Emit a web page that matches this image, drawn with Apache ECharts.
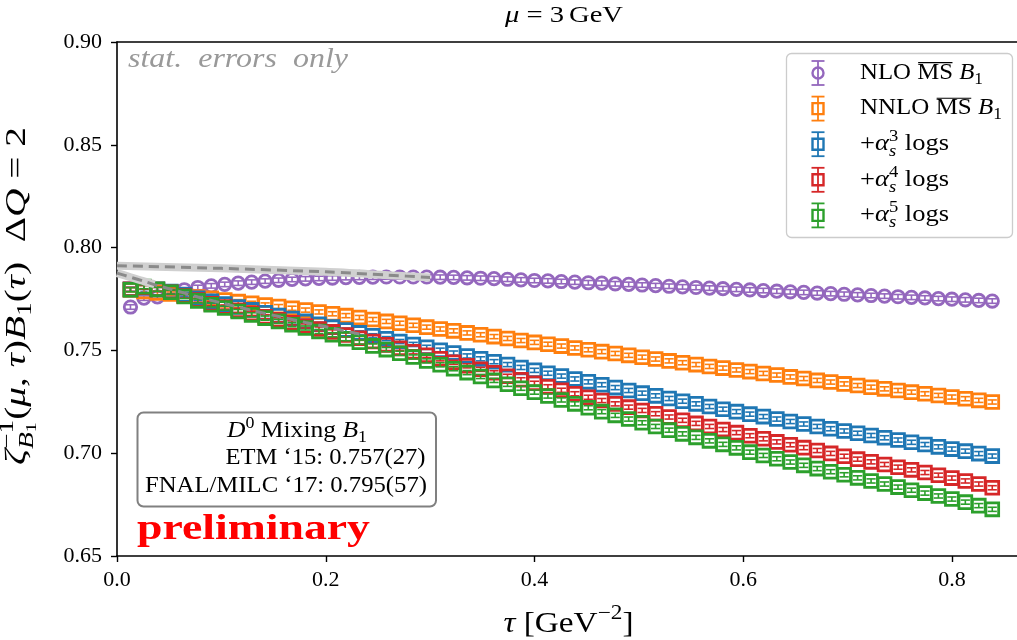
<!DOCTYPE html>
<html>
<head>
<meta charset="utf-8">
<script src="https://cdn.jsdelivr.net/npm/echarts@6/dist/echarts.min.js"></script>
<style>
  html, body { margin: 0; padding: 0; background: #fff; }
  #chart { width: 1017px; height: 640px; }
</style>
</head>
<body>
<div id="chart"></div>
<script>
// flow time tau in GeV^-2
const tau = [0.0129, 0.0258, 0.0387, 0.0516, 0.0645, 0.0774, 0.0903, 0.1032, 0.1161, 0.1290,
  0.1419, 0.1548, 0.1677, 0.1806, 0.1935, 0.2064, 0.2193, 0.2322, 0.2451, 0.2580,
  0.2709, 0.2838, 0.2967, 0.3096, 0.3225, 0.3354, 0.3483, 0.3612, 0.3741, 0.3870,
  0.3999, 0.4128, 0.4257, 0.4386, 0.4515, 0.4644, 0.4773, 0.4902, 0.5031, 0.5160,
  0.5289, 0.5418, 0.5547, 0.5676, 0.5805, 0.5934, 0.6063, 0.6192, 0.6321, 0.6450,
  0.6579, 0.6708, 0.6837, 0.6966, 0.7095, 0.7224, 0.7353, 0.7482, 0.7611, 0.7740,
  0.7869, 0.7998, 0.8127, 0.8256, 0.8385];

// NLO MS-bar B1
const nloMS = [0.7711, 0.7754, 0.7760, 0.7778, 0.7795, 0.7806, 0.7814, 0.7821, 0.7827, 0.7832,
  0.7837, 0.7841, 0.7845, 0.7848, 0.7850, 0.7852, 0.7854, 0.7855, 0.7856, 0.7857,
  0.7857, 0.7857, 0.7857, 0.7856, 0.7855, 0.7853, 0.7851, 0.7849, 0.7846, 0.7843,
  0.7840, 0.7838, 0.7835, 0.7832, 0.7829, 0.7827, 0.7824, 0.7821, 0.7818, 0.7815,
  0.7812, 0.7809, 0.7806, 0.7803, 0.7800, 0.7797, 0.7794, 0.7791, 0.7788, 0.7785,
  0.7782, 0.7779, 0.7776, 0.7773, 0.7770, 0.7767, 0.7764, 0.7761, 0.7758, 0.7755,
  0.7752, 0.7749, 0.7746, 0.7743, 0.7740];

// NNLO MS-bar B1
const nnloMS = [0.7795, 0.7787, 0.7780, 0.7774, 0.7767, 0.7760, 0.7753, 0.7745, 0.7737, 0.7729,
  0.7721, 0.7713, 0.7705, 0.7696, 0.7687, 0.7678, 0.7669, 0.7660, 0.7650, 0.7641,
  0.7632, 0.7622, 0.7613, 0.7604, 0.7595, 0.7585, 0.7576, 0.7567, 0.7558, 0.7548,
  0.7539, 0.7530, 0.7521, 0.7512, 0.7503, 0.7494, 0.7485, 0.7476, 0.7467, 0.7458,
  0.7449, 0.7440, 0.7431, 0.7422, 0.7414, 0.7405, 0.7397, 0.7388, 0.7380, 0.7371,
  0.7363, 0.7354, 0.7346, 0.7337, 0.7329, 0.7321, 0.7313, 0.7305, 0.7297, 0.7289,
  0.7281, 0.7273, 0.7265, 0.7257, 0.7249];

// + alpha_s^3 logs
const alpha3Logs = [0.7797, 0.7806, 0.7797, 0.7786, 0.7770, 0.7754, 0.7739, 0.7725, 0.7711, 0.7697,
  0.7683, 0.7669, 0.7655, 0.7641, 0.7627, 0.7613, 0.7599, 0.7585, 0.7571, 0.7557,
  0.7543, 0.7529, 0.7515, 0.7501, 0.7487, 0.7473, 0.7459, 0.7445, 0.7431, 0.7417,
  0.7403, 0.7389, 0.7375, 0.7361, 0.7347, 0.7333, 0.7319, 0.7305, 0.7292, 0.7279,
  0.7266, 0.7253, 0.7240, 0.7227, 0.7214, 0.7202, 0.7190, 0.7178, 0.7166, 0.7154,
  0.7142, 0.7130, 0.7119, 0.7108, 0.7097, 0.7086, 0.7075, 0.7064, 0.7053, 0.7042,
  0.7031, 0.7020, 0.7010, 0.6998, 0.6986];

// + alpha_s^4 logs
const alpha4Logs = [0.7797, 0.7808, 0.7796, 0.7783, 0.7764, 0.7745, 0.7727, 0.7711, 0.7695, 0.7680,
  0.7664, 0.7649, 0.7634, 0.7619, 0.7604, 0.7590, 0.7575, 0.7559, 0.7543, 0.7527,
  0.7510, 0.7493, 0.7476, 0.7459, 0.7442, 0.7425, 0.7408, 0.7391, 0.7374, 0.7357,
  0.7340, 0.7323, 0.7306, 0.7289, 0.7272, 0.7256, 0.7240, 0.7224, 0.7208, 0.7192,
  0.7176, 0.7160, 0.7145, 0.7130, 0.7115, 0.7100, 0.7085, 0.7070, 0.7055, 0.7041,
  0.7027, 0.7013, 0.6999, 0.6985, 0.6971, 0.6958, 0.6945, 0.6932, 0.6919, 0.6906,
  0.6893, 0.6879, 0.6865, 0.6850, 0.6832];

// + alpha_s^5 logs
const alpha5Logs = [0.7795, 0.7810, 0.7797, 0.7783, 0.7762, 0.7741, 0.7722, 0.7706, 0.7689, 0.7673,
  0.7657, 0.7641, 0.7625, 0.7609, 0.7592, 0.7576, 0.7557, 0.7540, 0.7522, 0.7504,
  0.7486, 0.7468, 0.7449, 0.7430, 0.7411, 0.7392, 0.7373, 0.7354, 0.7335, 0.7316,
  0.7297, 0.7278, 0.7259, 0.7240, 0.7221, 0.7202, 0.7184, 0.7166, 0.7148, 0.7130,
  0.7112, 0.7094, 0.7077, 0.7060, 0.7043, 0.7026, 0.7005, 0.6989, 0.6973, 0.6957,
  0.6941, 0.6925, 0.6910, 0.6895, 0.6880, 0.6865, 0.6850, 0.6835, 0.6820, 0.6806,
  0.6792, 0.6777, 0.6762, 0.6745, 0.6727];

// statistical error of each series (half-width of the error bar)
const statErrNLO = 0.0011;
const statErrNNLO = 0.0010;
const statErrA3 = 0.0010;
const statErrA4 = 0.0010;
const statErrA5 = 0.0010;

// tau -> 0 extrapolations
const nloFit = [[0, 0.7912], [0.1, 0.7899], [0.2, 0.7882], [0.26, 0.7866], [0.3, 0.7855]];
const logsFitBand = [[0, 0.7876], [0.013, 0.7856], [0.026, 0.7836], [0.036, 0.7822]];
const logsFit = [[0, 0.7876], [0.013, 0.7856], [0.026, 0.7836], [0.039, 0.7815], [0.052, 0.7797],
  [0.0774, 0.7760], [0.1032, 0.7727], [0.129, 0.7695], [0.1548, 0.7665], [0.1806, 0.7636],
  [0.2064, 0.7608], [0.2322, 0.7580]];

const xTicks = [0, 0.2, 0.4, 0.6, 0.8];
const yTicks = [0.65, 0.70, 0.75, 0.80, 0.85, 0.90];

const C = { purple: '#9467bd', orange: '#ff7f0e', blue: '#1f77b4', red: '#d62728', green: '#2ca02c' };
const SERIF = '"Liberation Serif", "DejaVu Serif", serif';

// ---------- small math-text layout helper (graphic elements) ----------
const mctx = document.createElement('canvas').getContext('2d');
function fontStr(size, it, b) {
  return (it ? 'italic ' : '') + (b ? 'bold ' : '') + size.toFixed(2) + 'px ' + SERIF;
}
function layoutRuns(runs, size, color, x0, out) {
  let x = x0;
  for (const r of runs) {
    if (r.sp != null) { x += r.sp * size; continue; }
    if (r.st) {
      const wSup = layoutRuns(r.st[0].map(q => Object.assign({ s: 0.7, dy: 0.42 }, q)), size, color, x, out) - x;
      const wSub = layoutRuns(r.st[1].map(q => Object.assign({ s: 0.7, dy: -0.25 }, q)), size, color, x, out) - x;
      x += Math.max(wSup, wSub);
      continue;
    }
    const fs = size * (r.s || 1);
    mctx.font = fontStr(fs, r.it, r.b);
    const w = mctx.measureText(r.t).width;
    const base = -(r.dy || 0) * size;
    out.push({
      type: 'text', x: x, y: base - 0.34 * fs, silent: true, z: 100,
      style: { text: r.t, font: fontStr(fs, r.it, r.b), fill: color, align: 'left', verticalAlign: 'middle' }
    });
    if (r.ov) {
      out.push({
        type: 'line', silent: true, z: 100,
        shape: { x1: x + 0.04 * fs, y1: base - 0.8 * fs, x2: x + w - 0.02 * fs, y2: base - 0.8 * fs },
        style: { stroke: color, lineWidth: Math.max(1, fs * 0.05) }
      });
    }
    x += w;
  }
  return x;
}
function mathText(runs, o) {
  const kids = [];
  const w = layoutRuns(runs, o.size, o.color || '#000', 0, kids);
  let shift = 0;
  if (o.align === 'center') shift = -w / 2;
  else if (o.align === 'right') shift = -w;
  kids.forEach(k => {
    if (k.type === 'text') k.x += shift;
    else { k.shape.x1 += shift; k.shape.x2 += shift; }
  });
  return {
    type: 'group', x: o.x, y: o.y, rotation: o.rot || 0,
    scaleX: o.width ? o.width / w : 1, children: kids, silent: true, z: 100
  };
}

// ---------- error-bar series ----------
function errSeries(name, values, err, color, shape) {
  return {
    type: 'custom', name: name, clip: true,
    encode: { x: 0, y: 1 },
    data: tau.map((t, i) => [t, values[i], err]),
    renderItem: function (params, api) {
      const x = api.value(0), y = api.value(1), e = api.value(2);
      const c = api.coord([x, y]);
      const top = api.coord([x, y + e])[1];
      const bot = api.coord([x, y - e])[1];
      const cap = 4.6, h = 6.4;
      const st = { stroke: color, lineWidth: 1.6, fill: 'none' };
      const mk = { stroke: color, lineWidth: 2.8, fill: 'none' };
      return {
        type: 'group',
        children: [
          { type: 'line', shape: { x1: c[0], y1: top, x2: c[0], y2: bot }, style: st },
          { type: 'line', shape: { x1: c[0] - cap, y1: top, x2: c[0] + cap, y2: top }, style: st },
          { type: 'line', shape: { x1: c[0] - cap, y1: bot, x2: c[0] + cap, y2: bot }, style: st },
          shape === 'circle'
            ? { type: 'circle', shape: { cx: c[0], cy: c[1], r: h - 0.2 }, style: mk }
            : { type: 'rect', shape: { x: c[0] - h, y: c[1] - h, width: 2 * h, height: 2 * h }, style: mk }
        ]
      };
    }
  };
}

function fitSeries(data, dashed) {
  return {
    type: 'line', data: data, showSymbol: false, silent: true, smooth: 0.3,
    lineStyle: dashed
      ? { color: '#8a8a8a', width: 3, type: [10, 6] }
      : { color: '#d0d0d0', width: 8, cap: 'butt' }
  };
}

// ---------- legend ----------
function legendIcon(cx, cy, color, shape) {
  const st = { stroke: color, lineWidth: 1.8, fill: 'none' };
  const mk = { stroke: color, lineWidth: 2.4, fill: 'none' };
  return [
    { type: 'line', shape: { x1: cx, y1: cy - 12, x2: cx, y2: cy + 12 }, style: st, z: 101 },
    { type: 'line', shape: { x1: cx - 6.5, y1: cy - 12, x2: cx + 6.5, y2: cy - 12 }, style: st, z: 101 },
    { type: 'line', shape: { x1: cx - 6.5, y1: cy + 12, x2: cx + 6.5, y2: cy + 12 }, style: st, z: 101 },
    shape === 'circle'
      ? { type: 'circle', shape: { cx: cx, cy: cy, r: 5.5 }, style: mk, z: 101 }
      : { type: 'rect', shape: { x: cx - 5.5, y: cy - 5.5, width: 11, height: 11 }, style: mk, z: 101 }
  ];
}

const legendItems = [
  { color: C.purple, shape: 'circle', width: 123,
    runs: [{ t: 'NLO ' }, { t: 'MS', ov: 1 }, { t: ' ' }, { t: 'B', it: 1 }, { t: '1', s: 0.7, dy: -0.2 }] },
  { color: C.orange, shape: 'rect', width: 142,
    runs: [{ t: 'NNLO ' }, { t: 'MS', ov: 1 }, { t: ' ' }, { t: 'B', it: 1 }, { t: '1', s: 0.7, dy: -0.2 }] },
  { color: C.blue, shape: 'rect', width: 89,
    runs: [{ t: '+' }, { t: 'α', it: 1 }, { st: [[{ t: '3' }], [{ t: 's', it: 1 }]] }, { t: ' logs' }] },
  { color: C.red, shape: 'rect', width: 89,
    runs: [{ t: '+' }, { t: 'α', it: 1 }, { st: [[{ t: '4' }], [{ t: 's', it: 1 }]] }, { t: ' logs' }] },
  { color: C.green, shape: 'rect', width: 89,
    runs: [{ t: '+' }, { t: 'α', it: 1 }, { st: [[{ t: '5' }], [{ t: 's', it: 1 }]] }, { t: ' logs' }] }
];

const graphics = [];
graphics.push({
  type: 'rect', z: 99, silent: true,
  shape: { x: 786.5, y: 53.5, width: 226, height: 184, r: 5 },
  style: { fill: 'rgba(255,255,255,0.8)', stroke: '#cccccc', lineWidth: 1.3 }
});
legendItems.forEach((it, i) => {
  const cy = 73 + i * 35.6;
  legendIcon(818, cy, it.color, it.shape).forEach(g => graphics.push(g));
  graphics.push(mathText(it.runs, { x: 860, y: cy + 7.6, size: 22.5, width: it.width }));
});

// info box with reference values
graphics.push({
  type: 'rect', z: 99, silent: true,
  shape: { x: 137.5, y: 412.5, width: 298.5, height: 94, r: 6 },
  style: { fill: 'rgba(255,255,255,0.8)', stroke: '#808080', lineWidth: 2 }
});
graphics.push(mathText([{ t: 'D', it: 1 }, { t: '0', s: 0.7, dy: 0.42 }, { t: ' Mixing ' }, { t: 'B', it: 1 }, { t: '1', s: 0.7, dy: -0.2 }],
  { x: 227, y: 438.5, size: 22.5, width: 140 }));
graphics.push(mathText([{ t: 'ETM \u201815: 0.757(27)' }], { x: 425.5, y: 466, size: 22.5, width: 200, align: 'right' }));
graphics.push(mathText([{ t: 'FNAL/MILC \u201817: 0.795(57)' }], { x: 145, y: 493.5, size: 22.5, width: 282 }));

// annotations
graphics.push(mathText([{ t: 'preliminary', b: 1 }], { x: 137, y: 541.5, size: 36, width: 233, color: '#ff0000' }));
graphics.push(mathText([{ t: 'stat.  errors  only', it: 1 }], { x: 128, y: 69.5, size: 27, width: 220, color: '#999999' }));

// title and axis names
graphics.push(mathText([{ t: 'μ', it: 1 }, { t: ' = ' }, { t: '3' }, { sp: 0.17 }, { t: 'GeV' }],
  { x: 564, y: 24, size: 22.5, width: 118, align: 'center' }));
graphics.push(mathText([{ t: 'τ', it: 1 }, { t: ' [GeV' }, { t: '−2', s: 0.7, dy: 0.45 }, { t: ']' }],
  { x: 568.5, y: 634, size: 29, width: 130, align: 'center' }));
graphics.push(mathText([
  { t: 'ζ', it: 1 },
  { st: [[{ t: '−1' }], [{ t: 'B', it: 1 }, { t: '1', s: 0.5, dy: -0.36 }]] },
  { t: '(' }, { t: 'μ', it: 1 }, { t: ', ' }, { t: 'τ', it: 1 }, { t: ')' },
  { t: 'B', it: 1 }, { t: '1', s: 0.7, dy: -0.2 }, { t: '(' }, { t: 'τ', it: 1 }, { t: ')' },
  { sp: 0.5 }, { t: 'Δ' }, { t: 'Q', it: 1 }, { t: ' = 2' }
], { x: 27, y: 296, size: 29, width: 338, align: 'center', rot: Math.PI / 2 }));

const axisText = { fontFamily: SERIF, fontSize: 22, color: '#000' };

const option = {
  animation: false,
  backgroundColor: '#fff',
  grid: { left: 117, top: 42, width: 920, height: 514 },
  xAxis: [
    {
      type: 'value', min: 0, max: 0.8622, position: 'bottom',
      axisLine: { onZero: false, lineStyle: { color: '#000', width: 1.6 } },
      axisTick: { customValues: xTicks, length: 6, lineStyle: { color: '#000', width: 1.4 } },
      axisLabel: Object.assign({ customValues: xTicks, margin: 13, formatter: v => v.toFixed(1) }, axisText),
      splitLine: { show: false }
    },
    {
      type: 'value', min: 0, max: 0.8622, position: 'top',
      axisLine: { onZero: false, lineStyle: { color: '#000', width: 1.6 } },
      axisTick: { show: false }, axisLabel: { show: false }, splitLine: { show: false }
    }
  ],
  yAxis: {
    type: 'value', min: 0.65, max: 0.90,
    axisLine: { show: true, onZero: false, lineStyle: { color: '#000', width: 1.6 } },
    axisTick: { show: true, customValues: yTicks, length: 6, lineStyle: { color: '#000', width: 1.4 } },
    axisLabel: Object.assign({ customValues: yTicks, margin: 15, formatter: v => v.toFixed(2) }, axisText),
    splitLine: { show: false }
  },
  series: [
    fitSeries(nloFit, false),
    fitSeries(logsFitBand, false),
    fitSeries(nloFit, true),
    fitSeries(logsFit, true),
    errSeries('NLO MS B1', nloMS, statErrNLO, C.purple, 'circle'),
    errSeries('NNLO MS B1', nnloMS, statErrNNLO, C.orange, 'rect'),
    errSeries('+a3 logs', alpha3Logs, statErrA3, C.blue, 'rect'),
    errSeries('+a4 logs', alpha4Logs, statErrA4, C.red, 'rect'),
    errSeries('+a5 logs', alpha5Logs, statErrA5, C.green, 'rect')
  ],
  graphic: { elements: graphics }
};

const chart = echarts.init(document.getElementById('chart'), null, { renderer: 'canvas' });
chart.setOption(option);
</script>
</body>
</html>
